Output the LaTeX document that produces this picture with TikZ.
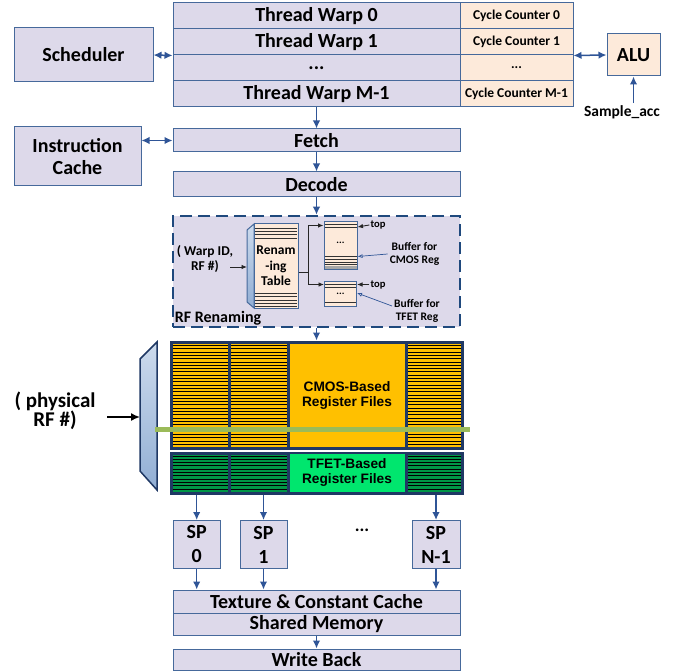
\documentclass[tikz,border=0pt]{standalone}
\usepackage{fontspec}
\setmainfont{Carlito}
\newfontfamily\arialf{Liberation Sans}
\usetikzlibrary{arrows.meta}

\definecolor{boxfill}{RGB}{221,217,234}
\definecolor{boxline}{RGB}{70,105,155}
\definecolor{arrblue}{RGB}{47,85,151}
\definecolor{cream}{RGB}{253,234,218}
\definecolor{rfnavy}{RGB}{31,56,100}
\definecolor{dashnavy}{RGB}{31,73,125}
\definecolor{cmosor}{RGB}{255,192,0}
\definecolor{tfetgr}{RGB}{0,230,110}
\definecolor{tfetdk}{RGB}{0,150,70}
\definecolor{busgreen}{RGB}{155,187,89}
\definecolor{muxlt}{RGB}{205,219,237}
\definecolor{muxdk}{RGB}{145,174,212}

\begin{document}
\begin{tikzpicture}[x=1pt,y=-1pt,
  box/.style={draw=boxline, line width=1pt, fill=boxfill, inner sep=0pt, align=center,
    font=\fontsize{20}{22}\selectfont\bfseries},
  cnt/.style={box, fill=cream, font=\fontsize{13.5}{16}\selectfont\bfseries},
  arr/.style={draw=arrblue, line width=1.5pt, -{Latex[length=8pt,width=7.5pt]}},
  dblarr/.style={arr, {Latex[length=8pt,width=7.5pt]}-{Latex[length=8pt,width=7.5pt]}},
  thinarr/.style={draw=black!85, line width=0.9pt, -{Latex[length=5.5pt,width=4.5pt]}},
  note/.style={inner sep=0pt, align=center, font=\fontsize{11.5}{12.5}\selectfont\bfseries},
  rf/.style={draw=rfnavy, line width=3pt, inner sep=0pt},
  rftext/.style={inner sep=0pt, align=center, font=\arialf\bfseries\fontsize{13.7}{15.6}\selectfont},
]
\useasboundingbox (0,0) rectangle (688,671);

% warp table with cycle counters
\node[box, minimum width=287pt, minimum height=26pt] (w0) at (316.5,16) {Thread Warp 0};
\node[box, minimum width=287pt, minimum height=26pt] (w1) at (316.5,42) {Thread Warp 1};
\node[box, minimum width=287pt, minimum height=26pt] (wd) at (316.5,68) {...};
\node[box, minimum width=287pt, minimum height=26pt] (wm) at (316.5,94) {Thread Warp M-1};
\node[cnt, minimum width=113pt, minimum height=26pt] (c0) at (516.5,16) {Cycle Counter 0};
\node[cnt, minimum width=113pt, minimum height=26pt] (c1) at (516.5,42) {Cycle Counter 1};
\node[cnt, minimum width=113pt, minimum height=26pt] (cd) at (516.5,68) {...};
\node[cnt, minimum width=113pt, minimum height=26pt] (cm) at (516.5,94) {Cycle Counter M-1};

\node[box, minimum width=139pt, minimum height=54pt] (sched) at (83.5,55) {Scheduler};
\node[cnt, minimum width=53pt, minimum height=42pt, font=\fontsize{20}{22}\selectfont\bfseries] (alu) at (633.5,55) {ALU};
\node[inner sep=0pt, font=\fontsize{15.5}{17}\selectfont\bfseries] (sacc) at (622,112) {Sample\_acc};

\draw[dblarr] (sched.east) -- (w1.south west);
\draw[dblarr] (c1.south east) -- (alu.west);
\draw[arr] ([yshift=2pt]sacc.north -| alu.south) -- (alu.south);

% front end
\node[box, minimum width=287pt, minimum height=23pt] (fetch) at (316.5,140.5) {Fetch};
\node[box, minimum width=127pt, minimum height=59pt] (ic) at (77.5,156.5) {Instruction\\Cache};
\node[box, minimum width=287pt, minimum height=25pt] (decode) at (316.5,184.5) {Decode};

\draw[arr] (wm.south) -- (fetch.north);
\draw[dblarr] (fetch.west) -- (fetch.west -| ic.east);
\draw[arr] (fetch) -- (decode);

% renaming stage
\node[draw=dashnavy, line width=2.5pt, dash pattern=on 12pt off 6pt, fill=boxfill,
  minimum width=287pt, minimum height=111pt, inner sep=0pt] (ren) at (316.5,271.5) {};
\draw[arr] (decode) -- (ren);

\node[inner sep=0pt, align=center, font=\fontsize{13.5}{15}\selectfont\bfseries] (wid) at (205,259) {( Warp ID,\\RF \#)};
\coordinate (rmux) at (247,267);
\draw[draw=boxline, line width=1pt, top color=muxlt, bottom color=muxdk]
  (247,230) -- (254,224) -- (254,308) -- (247,302) -- cycle;
\draw[thinarr] ([xshift=-3pt]wid.east |- rmux) -- (rmux);

\node[draw=boxline, line width=1pt, fill=cream, minimum width=44pt, minimum height=84pt,
  inner sep=0pt, align=center, font=\fontsize{13.5}{15.5}\selectfont\bfseries] (rt) at (276,266) {Renam\\-ing\\Table};
\foreach \y in {228,231.3,...,241}
  \draw[black!80, line width=0.7pt] (255,\y) -- (297,\y);
\foreach \y in {293.3,296.6,...,307}
  \draw[black!80, line width=0.7pt] (255,\y) -- (297,\y);

\node[draw=boxline, line width=1pt, fill=cream, minimum width=33pt, minimum height=47pt,
  inner sep=0pt] (cb) at (340.5,245.5) {};
\node[draw=boxline, line width=1pt, fill=cream, minimum width=32pt, minimum height=25pt,
  inner sep=0pt] (tb) at (340.5,294) {};
\foreach \y in {224.8,227.4,256.7,259.3,262,264.6}
  \draw[black!80, line width=0.7pt] (324.5,\y) -- (356.5,\y);
\fill[gray!70] (324.5,265.6) rectangle (356.5,268.5);
\foreach \y in {284.3,287,302.3}
  \draw[black!80, line width=0.7pt] (325,\y) -- (356,\y);
\node[font=\fontsize{10}{10}\selectfont\bfseries, inner sep=0pt] (cbd) at (340.5,243) {...};
\node[font=\fontsize{10}{10}\selectfont\bfseries, inner sep=0pt] (tbd) at (340.5,294) {...};

\draw[thinarr] ([yshift=-6pt]rt.east) -- ++(10,0) |- ([yshift=-4pt]cb.north west);
\draw[thinarr] ([yshift=-6pt]rt.east) -- ++(10,0) |- ([yshift=-3.5pt]tb.north west);

\node[inner sep=0pt, font=\fontsize{10.6}{11}\selectfont\bfseries] (top1) at (378,225) {top};
\node[inner sep=0pt, font=\fontsize{10.6}{11}\selectfont\bfseries] (top2) at (378,284.5) {top};
\draw[thinarr] ([xshift=-1pt]top1.west) -- ([yshift=-2pt]top1.west -| cb.east);
\draw[thinarr] ([xshift=-1pt]top2.west) -- (top2.west -| tb.east);

\node[note] (bcl) at (414.5,254) {Buffer for\\CMOS Reg};
\node[note] (btl) at (417,311) {Buffer for\\TFET Reg};
\draw[draw=arrblue, line width=0.7pt, -{Latex[length=5pt,width=4pt,open]}] ([xshift=-2pt]bcl.west) -- ([yshift=-11pt]cb.east);
\draw[draw=arrblue, line width=0.7pt, -{Latex[length=5pt,width=4pt,open]}] ([xshift=-2pt,yshift=5pt]btl.west) -- ([yshift=1pt]tb.east);

\node[inner sep=0pt, font=\fontsize{16}{18}\selectfont\bfseries] (rfr) at (218,318) {RF Renaming};

% register files
\node[rf, fill=cmosor, minimum width=291pt, minimum height=106pt] (cmos) at (316.5,395) {};
\node[rf, fill=tfetdk, minimum width=291pt, minimum height=40pt] (tfet) at (316.5,473) {};
\fill[tfetgr] (288,454) rectangle (406,492);
\foreach \xa/\xb in {172.5/229, 229/288, 406/460.5}{
  \foreach \y in {345.5,348.8,...,446}
    \draw[black, line width=1pt] (\xa,\y) -- (\xb,\y);
  \foreach \y in {456,459.3,...,491}
    \draw[black, line width=1pt] (\xa,\y) -- (\xb,\y);
}
\foreach \x in {229,288,406}{
  \draw[rfnavy, line width=3pt] (\x,342) -- (\x,448);
  \draw[rfnavy, line width=3pt] (\x,453) -- (\x,493);
}
\node[rftext] (cmosl) at (347,395.5) {CMOS-Based\\Register Files};
\node[rftext] (tfetl) at (347,472.5) {TFET-Based\\Register Files};
\draw[arr] (ren) -- (cmos);

% physical RF select
\draw[draw=rfnavy, line width=1.5pt, top color=muxlt, bottom color=muxdk]
  (140,359) -- (157,342) -- (157,490) -- (140,471) -- cycle;
\coordinate (muxin) at (140,417);
\node[inner sep=0pt, align=center, font=\fontsize{21}{19}\selectfont\bfseries] (phys) at (55,411) {( physical\\RF \#)};
\draw[black, line width=1.6pt, -{Latex[length=9pt,width=8pt]}] (107,417) -- (muxin);
\draw[busgreen, line width=5pt] (155,429) -- (470,429);

% SPs and back end
\node[box, minimum width=47pt, minimum height=48pt] (sp0) at (196.7,544.5) {SP\\[2pt]0};
\node[box, minimum width=47pt, minimum height=48pt] (sp1) at (263.5,544.5) {SP\\[2pt]1};
\node[box, minimum width=48pt, minimum height=48pt] (spn) at (436,544.5) {SP\\[2pt]N-1};
\node[inner sep=0pt, font=\fontsize{18}{18}\selectfont\bfseries] (spd) at (362,530) {...};

\node[box, minimum width=287pt, minimum height=23pt] (tex) at (316.5,601.5) {Texture \& Constant Cache};
\node[box, minimum width=287pt, minimum height=22pt] (smem) at (316.5,624) {Shared Memory};
\node[box, minimum width=287pt, minimum height=21pt] (wb) at (316.5,659.5) {Write Back};

\draw[arr] (sp0.north |- tfet.south) -- (sp0.north);
\draw[arr] (sp1.north |- tfet.south) -- (sp1.north);
\draw[arr] (spn.north |- tfet.south) -- (spn.north);
\draw[arr] (sp0.south) -- (sp0.south |- tex.north);
\draw[arr] (sp1.south) -- (sp1.south |- tex.north);
\draw[arr] (spn.south) -- (spn.south |- tex.north);
\draw[arr] (smem.south) -- (wb.north);
\end{tikzpicture}
\end{document}
